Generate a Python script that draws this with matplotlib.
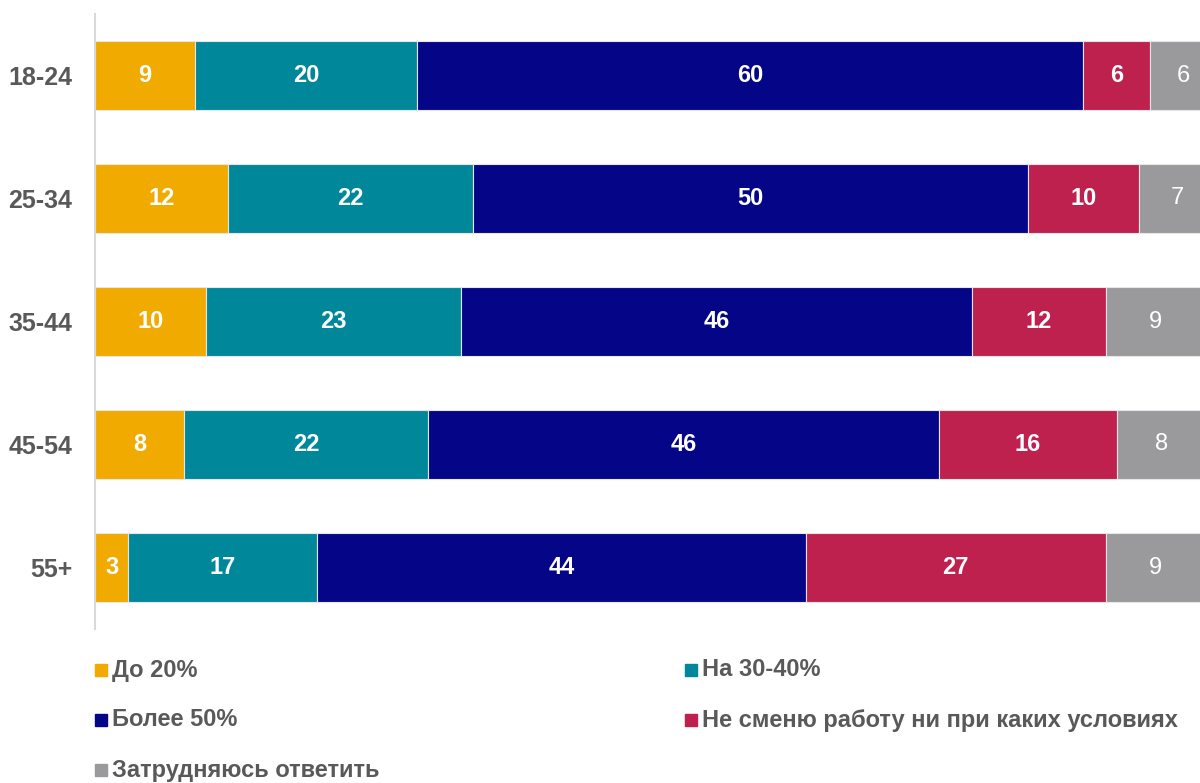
import matplotlib
matplotlib.use("Agg")
import matplotlib.pyplot as plt
from matplotlib.patches import Rectangle

plt.rcParams['font.family'] = ['Liberation Sans', 'DejaVu Sans']

categories = ["18-24", "25-34", "35-44", "45-54", "55+"]
series_names = ["До 20%", "На 30-40%", "Более 50%",
                "Не сменю работу ни при каких условиях", "Затрудняюсь ответить"]
do20 = [9, 12, 10, 8, 3]
na30_40 = [20, 22, 23, 22, 17]
bolee50 = [60, 50, 46, 46, 44]
ne_smenu = [6, 10, 12, 16, 27]
zatr = [6, 7, 9, 8, 9]
series = [do20, na30_40, bolee50, ne_smenu, zatr]
colors = ["#F0AA00", "#00879A", "#050587", "#BE214E", "#9A9A9C"]
bold = [True, True, True, True, False]

W, H = 1200, 783
fig = plt.figure(figsize=(W / 100, H / 100), dpi=100)
ax = fig.add_axes([95 / W, 1 - 629 / H, 1 - 95 / W, (629 - 14) / H])

y = list(range(len(categories)))
left = [0] * len(categories)
for vals, col, b in zip(series, colors, bold):
    ax.barh(y, vals, left=left, height=0.565, color=col,
            edgecolor="#E6E6E6", linewidth=0.8)
    for yi, l, v in zip(y, left, vals):
        ax.text(l + v / 2, yi, str(v), ha="center", va="center",
                color="white", fontsize=17,
                fontweight="bold" if b else "normal")
    left = [l + v for l, v in zip(left, vals)]

ax.set_xlim(0, 99.5)
ax.set_ylim(4.5, -0.5)
ax.set_yticks(y)
ax.set_yticklabels(categories, fontsize=18, fontweight="bold", color="#595959")
ax.tick_params(axis="y", length=0, pad=16.5)
ax.set_xticks([])
for s in ["top", "right", "bottom"]:
    ax.spines[s].set_visible(False)
ax.spines["left"].set_color("#D9D9D9")
ax.spines["left"].set_linewidth(1.5)

# legend
col_x = [95, 685]
row_y = [670, 720, 770]
sq = 12
for i, (name, col) in enumerate(zip(series_names, colors)):
    cx = col_x[i % 2]
    cy = row_y[i // 2]
    fig.patches.append(Rectangle((cx / W, 1 - (cy + sq / 2) / H), sq / W, sq / H,
                                 transform=fig.transFigure, color=col))
    fig.text((cx + sq + 5) / W, 1 - cy / H, name, ha="left", va="center",
             fontsize=17, fontweight="bold", color="#595959")

fig.savefig("out.png", dpi=100)
